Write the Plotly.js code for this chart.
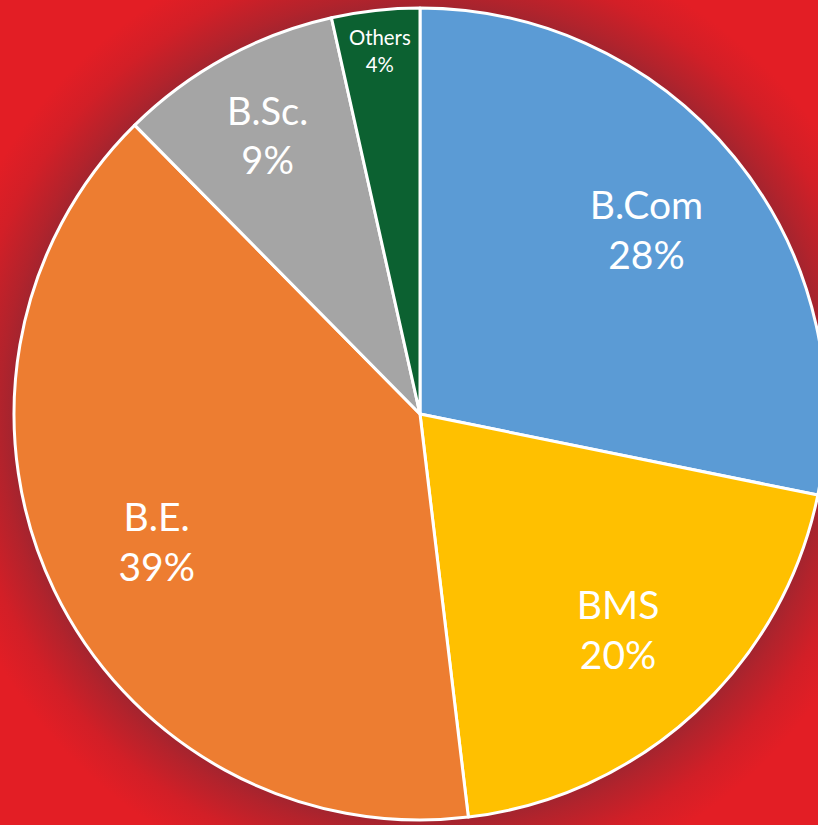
<!DOCTYPE html>
<html>
<head>
<meta charset="utf-8">
<script src="https://cdn.plot.ly/plotly-3.0.1.min.js"></script>
<style>
html, body { margin:0; padding:0; overflow:hidden; width:818px; height:825px; }
#wrap { position:relative; width:818px; height:825px; overflow:hidden;
  background: radial-gradient(circle at 420px 414px, #8e2430 0px, #9c2530 400px, #b2232c 420px, #d21f27 455px, #e31e25 490px, #e31e25 100%); }
#chart { position:absolute; left:0; top:0; width:832px; height:825px; }
</style>
</head>
<body>
<div id="wrap"><div id="chart"></div></div>
<script>
const categories = ["B.Com", "BMS", "B.E.", "B.Sc.", "Others"];
const shares = [28.2, 19.9, 39.5, 8.9, 3.5];
const pctLabels = ["28%", "20%", "39%", "9%", "4%"];
const colors = ["#5B9BD5", "#FFC000", "#ED7D31", "#A5A5A5", "#0C6131"];

const W = 832, H = 825;
const cx = 420, cy = 414, R = 406;
const dom = { x: [(cx - R) / W, (cx + R) / W], y: [(H - cy - R) / H, (H - cy + R) / H] };
const base = {
  type: "pie",
  labels: categories,
  values: shares,
  sort: false,
  direction: "clockwise",
  rotation: 0,
  hoverinfo: "none",
  domain: dom,
  showlegend: false
};
const slices = Object.assign({}, base, {
  textinfo: "none",
  marker: { colors: colors, line: { color: "#ffffff", width: 3 } }
});
const textRing = Object.assign({}, base, {
  hole: 0.44,
  text: pctLabels,
  texttemplate: "%{label}<br>%{text}",
  textinfo: "text",
  textposition: "inside",
  insidetextorientation: "horizontal",
  insidetextfont: { family: "Lato, 'Open Sans', sans-serif", size: [39, 39, 39, 38, 23], color: "#ffffff" },
  marker: { colors: ["rgba(0,0,0,0)", "rgba(0,0,0,0)", "rgba(0,0,0,0)", "rgba(0,0,0,0)", "rgba(0,0,0,0)"], line: { width: 0 } }
});
Plotly.newPlot("chart", [slices, textRing], {
  width: W, height: H,
  margin: { l: 0, r: 0, t: 0, b: 0 },
  paper_bgcolor: "rgba(0,0,0,0)",
  plot_bgcolor: "rgba(0,0,0,0)",
  showlegend: false
}, { displayModeBar: false, staticPlot: true });
</script>
</body>
</html>
